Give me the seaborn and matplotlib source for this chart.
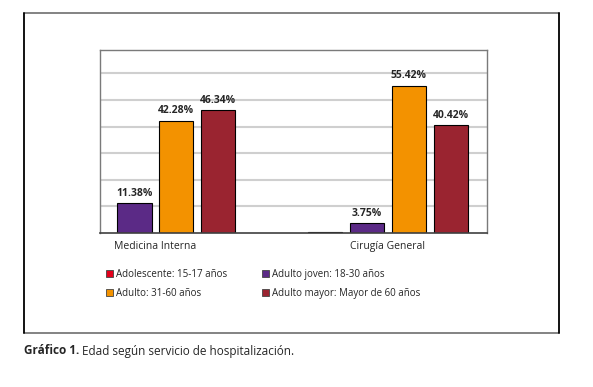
import numpy as np
import pandas as pd
import matplotlib
matplotlib.use("Agg")
import matplotlib.pyplot as plt
import seaborn as sns
from matplotlib.patches import Rectangle

# Données
servicios = ['Medicina Interna', 'Cirugía General']
grupos = ['Adolescente: 15-17 años', 'Adulto joven: 18-30 años',
          'Adulto: 31-60 años', 'Adulto mayor: Mayor de 60 años']
medicina = [np.nan, 11.38, 42.28, 46.34]
cirugia = [0.41, 3.75, 55.42, 40.42]
etiquetas_medicina = ['', '11.38%', '42.28%', '46.34%']
etiquetas_cirugia = ['', '3.75%', '55.42%', '40.42%']
colores = ['#e3001b', '#5b2a86', '#f39200', '#9a2430']

df = pd.DataFrame({
    'servicio': [servicios[0]] * 4 + [servicios[1]] * 4,
    'grupo': grupos * 2,
    'valor': medicina + cirugia,
    'etiqueta': etiquetas_medicina + etiquetas_cirugia,
}).dropna()

sns.set_style('white')
plt.rcParams['font.family'] = ['Open Sans', 'DejaVu Sans']

fig = plt.figure(figsize=(5.93, 3.87), dpi=100)
ax = fig.add_axes([100 / 593, 1 - 233 / 387, 387 / 593, 183 / 387])

sns.barplot(data=df, x='servicio', y='valor', hue='grupo', hue_order=grupos,
            order=servicios, palette=colores, width=0.72, gap=0.18,
            edgecolor='black', linewidth=0.8, saturation=1, ax=ax, legend=False)

# Étiquettes au-dessus des barres
for cont, g in zip(ax.containers, grupos):
    labels = df[df['grupo'] == g].set_index('servicio').reindex(
        [s for s in servicios if ((df['servicio'] == s) & (df['grupo'] == g)).any()])['etiqueta']
    ax.bar_label(cont, labels=list(labels), padding=3, fontsize=7.5, fontweight='bold')

ax.set_xlim(-0.238, 1.426)
ax.set_ylim(0, 68.8)
ax.set_yticks([10, 20, 30, 40, 50, 60])
ax.yaxis.grid(True, color='#cfcfcf', linewidth=1.5)
ax.set_axisbelow(True)
ax.tick_params(axis='y', left=False, labelleft=False)
ax.tick_params(axis='x', bottom=False, labelsize=7.5, pad=2)
ax.set_xlabel('')
ax.set_ylabel('')
for s in ['top', 'right', 'left']:
    ax.spines[s].set_color('#7a7a7a')
    ax.spines[s].set_linewidth(1.0)
ax.spines['bottom'].set_color('#404040')
ax.spines['bottom'].set_linewidth(1.2)

# Légende
handles = [Rectangle((0, 0), 1, 1, facecolor=c, edgecolor='#444444', linewidth=0.6)
           for c in colores]
orden = [0, 2, 1, 3]
fig.legend([handles[i] for i in orden], [grupos[i] for i in orden], ncol=2,
           loc='upper left', bbox_to_anchor=(101 / 593, 1 - 264 / 387), frameon=False,
           fontsize=7, handlelength=0.7, handleheight=0.7, handletextpad=0.3,
           columnspacing=3.6, labelspacing=0.8, borderpad=0)

# Cadre extérieur
fig.add_artist(plt.Line2D([24 / 593, 559 / 593], [1 - 13 / 387] * 2, color='#7a7a7a', lw=1.3))
fig.add_artist(plt.Line2D([24 / 593, 559 / 593], [1 - 333 / 387] * 2, color='#7a7a7a', lw=1.3))
fig.add_artist(plt.Line2D([24 / 593] * 2, [1 - 13 / 387, 1 - 333 / 387], color='black', lw=1.3))
fig.add_artist(plt.Line2D([559 / 593] * 2, [1 - 13 / 387, 1 - 333 / 387], color='black', lw=1.3))

# Légende du graphique
t = fig.text(24 / 593, 1 - 351 / 387, 'Gráfico 1.', fontsize=8.5, fontweight='bold', va='center')
fig.canvas.draw()
bb = t.get_window_extent()
fig.text((bb.x1 + 3) / fig.bbox.width, 1 - 351 / 387, 'Edad según servicio de hospitalización.',
         fontsize=8.5, va='center')

fig.savefig('out.png', dpi=100)
